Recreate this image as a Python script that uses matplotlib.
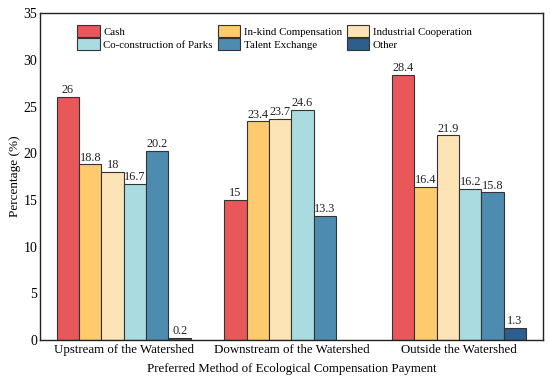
import matplotlib
matplotlib.use("Agg")
import matplotlib.pyplot as plt
import numpy as np

plt.rcParams['font.family'] = ['Liberation Serif', 'DejaVu Serif']

categories = ["Upstream of the Watershed", "Downstream of the Watershed", "Outside the Watershed"]
series_names = ["Cash", "In-kind Compensation", "Industrial Cooperation",
                "Co-construction of Parks", "Talent Exchange", "Other"]
cash = [26, 15, 28.4]
inkind = [18.8, 23.4, 16.4]
industrial = [18, 23.7, 21.9]
parks = [16.7, 24.6, 16.2]
talent = [20.2, 13.3, 15.8]
other = [0.2, None, 1.3]
label_text = {
    "Cash": ["26", "15", "28.4"],
    "In-kind Compensation": ["18.8", "23.4", "16.4"],
    "Industrial Cooperation": ["18", "23.7", "21.9"],
    "Co-construction of Parks": ["16.7", "24.6", "16.2"],
    "Talent Exchange": ["20.2", "13.3", "15.8"],
    "Other": ["0.2", "", "1.3"],
}
series = [cash, inkind, industrial, parks, talent, other]
colors = ["#E8575A", "#FDCB6E", "#FDE4B6", "#A9DBE0", "#4D8CAE", "#2D5E8E"]

fig = plt.figure(figsize=(5.5, 3.86), dpi=100)
ax = fig.add_axes([0.0727, 0.119, 0.9143, 0.847])

x = np.arange(len(categories))
n = len(series)
w = 0.8 / n
handles = []
for i, (name, vals, c) in enumerate(zip(series_names, series, colors)):
    pos = x - 0.4 + w * (i + 0.5)
    v = [np.nan if val is None else val for val in vals]
    bars = ax.bar(pos, v, width=w, color=c, edgecolor="#333333", linewidth=0.8, label=name)
    handles.append(bars)
    for p, val, t in zip(pos, vals, label_text[name]):
        if val is None or t == "":
            continue
        ax.text(p, val + 0.1, t, ha="center", va="bottom", fontsize=8.8, color="#222222")

ax.set_xlim(-0.5, 2.5)
ax.set_ylim(0, 35)
ax.set_yticks(range(0, 36, 5))
ax.set_xticks(x)
ax.set_xticklabels(categories, fontsize=9.3)
ax.tick_params(axis='x', length=0, pad=3)
ax.tick_params(axis='y', length=0, pad=2, labelsize=10)
ax.set_ylabel("Percentage (%)", fontsize=9.5, labelpad=1.5)
ax.set_xlabel("Preferred Method of Ecological Compensation Payment", fontsize=9.3, labelpad=5)
for s in ax.spines.values():
    s.set_linewidth(1.0)
    s.set_color("#222222")

order = [0, 3, 1, 4, 2, 5]
leg = ax.legend([handles[i] for i in order], [series_names[i] for i in order],
                ncol=3, loc="upper left", bbox_to_anchor=(0.057, 0.99), frameon=False,
                fontsize=7.8, handlelength=2.1, handleheight=1.35, columnspacing=0.45,
                handletextpad=0.3, labelspacing=0.1, borderpad=0.3)

fig.savefig("out.png", dpi=100)
